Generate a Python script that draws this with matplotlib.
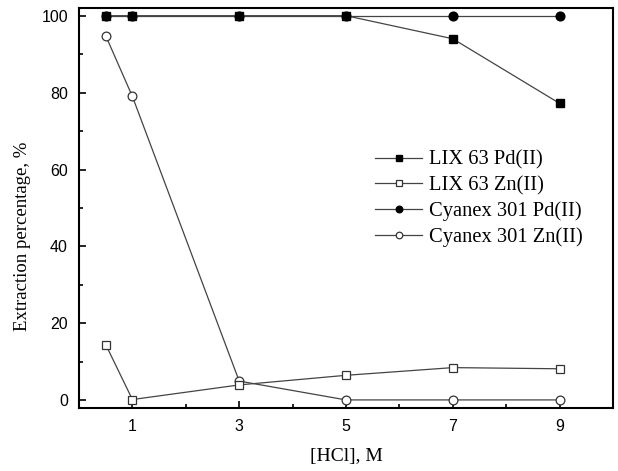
import matplotlib.pyplot as plt
from matplotlib.ticker import MultipleLocator, FixedLocator

hcl = [0.5, 1, 3, 5, 7, 9]
lix_pd = [100, 100, 100, 100, 94, 77.2]
lix_zn = [14.5, 0.2, 4.0, 6.5, 8.5, 8.2]
cy_pd = [100, 100, 100, 100, 100, 100]
cy_zn = [94.8, 79.0, 5.0, 0.1, 0.1, 0.1]

serif = "Liberation Serif"
sans = "Liberation Sans"

fig = plt.figure(figsize=(6.18, 4.71), dpi=100)
ax = fig.add_axes([79 / 618, 1 - 408 / 471, (613 - 79) / 618, (408 - 8) / 471])

lc = "#444444"
ax.plot(hcl, cy_pd, "-o", color=lc, lw=0.9, mfc="black", mec="black", ms=6.3,
        label="Cyanex 301 Pd(II)", zorder=3)
ax.plot(hcl, cy_zn, "-o", color=lc, lw=0.9, mfc="white", mec="#333333", ms=6.3,
        mew=0.9, label="Cyanex 301 Zn(II)", zorder=3)
ax.plot(hcl, lix_pd, "-s", color=lc, lw=0.9, mfc="black", mec="black", ms=6.0,
        label="LIX 63 Pd(II)", zorder=4)
ax.plot(hcl, lix_zn, "-s", color=lc, lw=0.9, mfc="white", mec="#333333", ms=6.0,
        mew=0.9, label="LIX 63 Zn(II)", zorder=4)

ax.set_xlim(0, 10)
ax.set_ylim(-2, 102)
ax.xaxis.set_major_locator(FixedLocator([1, 3, 5, 7, 9]))
ax.xaxis.set_minor_locator(FixedLocator([2, 4, 6, 8]))
ax.yaxis.set_major_locator(MultipleLocator(20))
ax.yaxis.set_minor_locator(MultipleLocator(10))
ax.tick_params(which="both", direction="in", width=1.2, colors="black")
ax.tick_params(which="major", length=5, labelsize=11.5, pad=8)
ax.tick_params(which="minor", length=3)
for lab in ax.get_xticklabels() + ax.get_yticklabels():
    lab.set_fontfamily(sans)
for s in ax.spines.values():
    s.set_linewidth(1.5)

ax.set_xlabel("[HCl], M", fontfamily=serif, fontsize=14, labelpad=10)
ax.set_ylabel("Extraction percentage, %", fontfamily=serif, fontsize=13.5)
# label sits a bit below the axis middle
ax.yaxis.set_label_coords(-0.09, 0.43)

h, l = ax.get_legend_handles_labels()
order = [2, 3, 0, 1]
ax.legend([h[i] for i in order], [l[i] for i in order], frameon=False,
          prop={"family": serif, "size": 14.8}, loc="upper left",
          bbox_to_anchor=(0.52, 0.69), handlelength=2.3, labelspacing=0.3,
          handletextpad=0.3, markerscale=0.75)

fig.savefig("out.png", dpi=100)
